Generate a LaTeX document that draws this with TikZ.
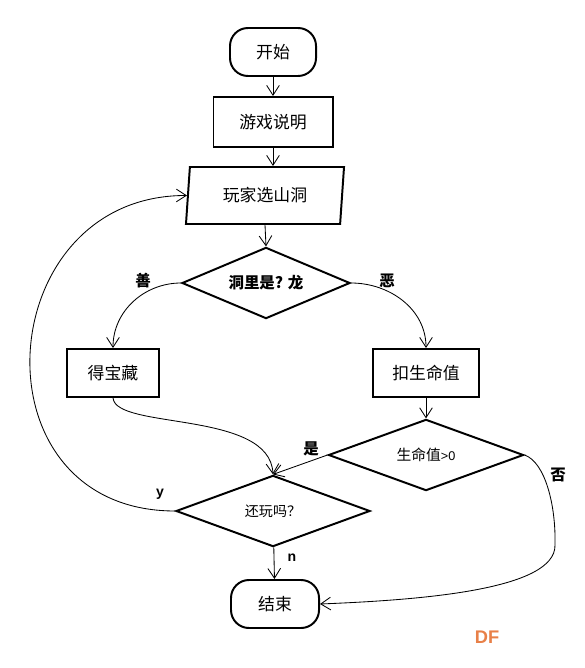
\documentclass[tikz,border=0pt]{standalone}
\usepackage{fontspec}
\setmainfont{Noto Sans CJK SC}
\newfontfamily\latin{Liberation Sans}
\usetikzlibrary{arrows.meta,shapes.geometric}
\definecolor{dforange}{RGB}{232,128,72}

\begin{document}
\begin{tikzpicture}[x=0.025cm,y=-0.025cm,
      >={Straight Barb[length=7pt,width=9pt]},
      every node/.style={font=\fontsize{12}{14}\selectfont},
      terminal/.style={draw,line width=1.4pt,rounded corners=0.45cm,
        minimum height=1.2cm},
      process/.style={draw,line width=1.4pt,minimum height=1.2cm},
      io/.style={draw,line width=1.4pt,trapezium,trapezium left angle=76,
        trapezium right angle=104,trapezium stretches body,
        minimum width=3.95cm,minimum height=1.425cm,inner sep=0pt},
      decision/.style={draw,line width=1.4pt,diamond,aspect=2.5,inner sep=0pt,
        minimum height=1.78cm},
      flow/.style={->,line width=0.6pt},
      tag/.style={font=\fontsize{11}{13}\selectfont\bfseries}]

  \useasboundingbox (0,0) rectangle (584,668);

  \node[terminal,minimum width=2.15cm] (start) at (273,52) {开始};
  \node[process,minimum width=2.975cm,minimum height=1.25cm] (intro) at (273,122) {游戏说明};
  \node[io] (pick) at (265,195.5) {玩家选山洞};
  \node[decision,minimum width=4.2cm,font=\fontsize{11}{13}\selectfont\bfseries] (cave) at (266,283) {洞里是? 龙};
  \node[process,minimum width=2.3cm] (treasure) at (113,373) {得宝藏};
  \node[process,minimum width=2.65cm] (hurt) at (426,373) {扣生命值};
  \node[decision,minimum width=4.875cm,font=\fontsize{10.5}{13}\selectfont] (alive) at (426,455) {生命值{\latin\fontsize{9}{11}\selectfont >0}};
  \node[decision,minimum width=4.85cm,font=\fontsize{10}{12}\selectfont] (again) at (273,511) {还玩吗？};
  \node[terminal,minimum width=2.2cm] (stop) at (275,604) {结束};
  \coordinate (bend) at (555,545);

  \draw[flow] (start) -- (intro);
  \draw[flow] (intro.south) -- (intro.south |- pick.north);
  \draw[flow] (pick.south) -- (cave.north);
  \draw[flow] (cave.west) to[out=180,in=90] (treasure.north);
  \draw[flow] (cave.east) to[out=0,in=90] (hurt.north);
  \draw[flow] (treasure.south) .. controls (116,430) and (270,410) .. (again.north);
  \draw[flow] (hurt) -- (alive);
  \draw[flow] (alive.west) -- (again.north);
  \draw[flow] (alive.east) .. controls (545,462) and (556,505) .. (bend)
    .. controls (556,590) and (420,600) .. (stop.east);
  \draw[flow] (again.west) .. controls (-30,511) and (-10,195) .. (pick.west);
  \draw[flow] (again) -- (stop);

  % branch labels
  \node[tag] (good) at (143,281) {善};
  \node[tag] (evil) at (387,281) {恶};
  \node[tag] (yes) at (311,449) {是};
  \node[tag] (no) at (558,475) {否};
  \node[tag,font=\latin\bfseries\fontsize{10}{12}\selectfont] (ylab) at (160,494) {y};
  \node[tag,font=\latin\bfseries\fontsize{10}{12}\selectfont] (nlab) at (292,558) {n};
  \node[font=\latin\bfseries\fontsize{13}{15}\selectfont,text=dforange] (mark) at (487,637) {DF};
\end{tikzpicture}
\end{document}
